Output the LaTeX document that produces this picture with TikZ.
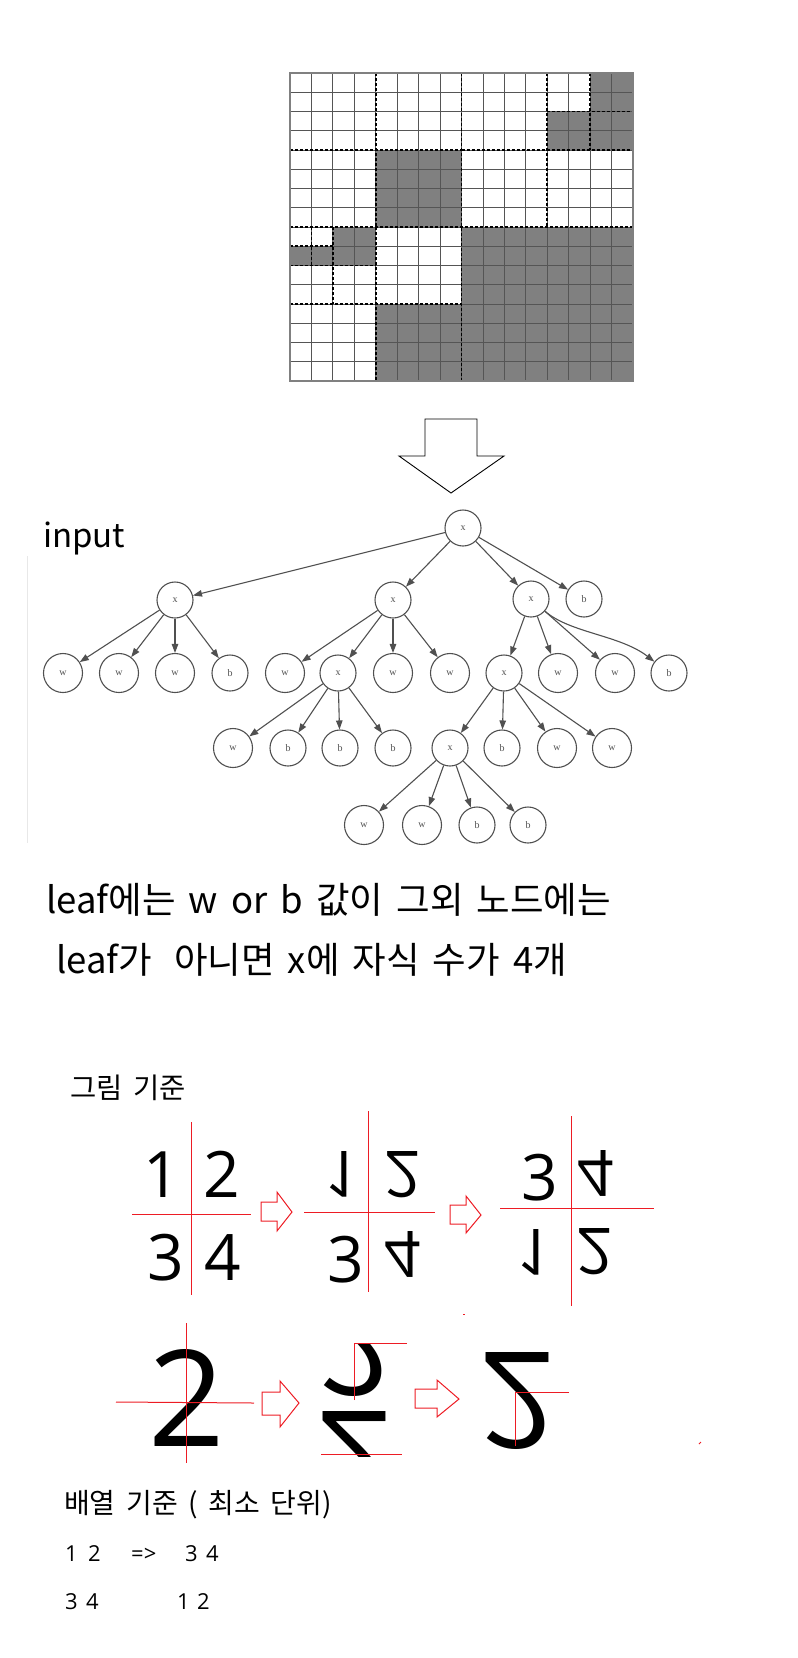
\documentclass[tikz,border=0pt]{standalone}
\usepackage{fontspec}
\usepackage{graphicx}
\setmainfont{Noto Sans CJK KR}[WordSpace=1.6]
\newfontfamily\treefont{Liberation Serif}
\newfontfamily\digitfont{Open Sans}
\newfontfamily\krwide{Noto Sans CJK KR}[WordSpace=1.7]
\usetikzlibrary{shapes,arrows.meta,positioning}

\definecolor{cellgray}{RGB}{128,128,128}
\definecolor{gridline}{RGB}{85,85,85}
\definecolor{treegray}{RGB}{80,80,80}
\definecolor{faint}{RGB}{232,232,232}
\definecolor{paintred}{RGB}{237,28,36}

\newcommand{\upside}[1]{\scalebox{1}[-1]{#1}}

\tikzstyle{tnode} = [circle, draw=treegray, line width=1.1pt, minimum size=36pt,
    inner sep=0pt, text=treegray, font=\treefont\fontsize{10}{10}\selectfont]
\tikzstyle{wnode} = [tnode, minimum size=39pt]
\tikzstyle{line} = [draw=treegray, line width=1.1pt, -{Triangle[length=9pt,width=6.5pt]}]
\tikzstyle{quad} = [draw=black, line width=1.6pt, dash pattern=on 3pt off 2pt]
\tikzstyle{redline} = [draw=paintred, line width=1pt]
\tikzstyle{txt} = [inner sep=0pt, anchor=base west]
\tikzstyle{bigdigit} = [inner sep=0pt, anchor=base, font=\digitfont\fontsize{64}{64}\selectfont]
\tikzstyle{hugedigit} = [inner sep=0pt, anchor=base, font=\digitfont\fontsize{134}{134}\selectfont]

\begin{document}
\begin{tikzpicture}[x=1pt, y=-1pt]
	\useasboundingbox (0,0) rectangle (798,1658);
	% Draw quadtree grid
	\begin{scope}[shift={(290,73)}, x=21.44pt, y=-19.25pt]
		\foreach \a/\b/\c/\d in {14/0/16/2, 12/2/16/4, 4/4/8/8, 8/8/16/16, 4/12/8/16, 2/8/4/10, 0/9/2/10}
			\fill[cellgray] (\a,\b) rectangle (\c,\d);
		\foreach \i in {0,...,16} {
			\draw[gridline, line width=0.8pt] (\i,0) -- (\i,16);
			\draw[gridline, line width=0.8pt] (0,\i) -- (16,\i);
		}
		\foreach \a/\b/\c/\d in {8/0/8/16, 0/8/16/8, 4/0/4/8, 0/4/8/4, 12/0/12/8, 8/4/16/4,
				14/0/14/4, 12/2/16/2, 4/8/4/16, 0/12/8/12, 2/8/2/12, 0/10/4/10, 1/8/1/10, 0/9/2/9}
			\draw[quad] (\a,\b) -- (\c,\d);
		\draw[gray, line width=1.2pt] (0,0) rectangle (16,16);
	\end{scope}
	% Draw down arrow
	\draw[line width=0.9pt] (425,419) -- (477,419) -- (477,456) -- (504,456) -- (451,493)
		-- (399,456) -- (425,456) -- cycle;
	% Draw tree
	\node[txt, font=\fontsize{33}{33}\selectfont] (input) at (43,547) {input};
	\draw[faint, line width=1pt] (27,556) -- (27,843);
	\node[tnode] (root) at (463,528) {x};
	\node[tnode] (tl) at (175,600) {x};
	\node[tnode] (tr) at (393,600) {x};
	\node[tnode] (bl) at (531,599) {x};
	\node[tnode] (br) at (584,599) {b};
	\node[wnode] (tl1) at (63,673) {w};
	\node[wnode] (tl2) at (119,673) {w};
	\node[wnode] (tl3) at (175,673) {w};
	\node[tnode] (tl4) at (230,673) {b};
	\node[wnode] (tr1) at (285,673) {w};
	\node[tnode] (tr2) at (338,673) {x};
	\node[wnode] (tr3) at (393,673) {w};
	\node[wnode] (tr4) at (450,673) {w};
	\node[tnode] (bl1) at (504,673) {x};
	\node[wnode] (bl2) at (558,673) {w};
	\node[wnode] (bl3) at (615,673) {w};
	\node[tnode] (bl4) at (669,673) {b};
	\node[wnode] (tr21) at (233,748) {w};
	\node[tnode] (tr22) at (288,748) {b};
	\node[tnode] (tr23) at (340,748) {b};
	\node[tnode] (tr24) at (393,748) {b};
	\node[tnode] (bl11) at (450,748) {x};
	\node[tnode] (bl12) at (502,748) {b};
	\node[wnode] (bl13) at (557,748) {w};
	\node[wnode] (bl14) at (612,748) {w};
	\node[wnode] (bl111) at (364,825) {w};
	\node[wnode] (bl112) at (422,825) {w};
	\node[tnode] (bl113) at (477,825) {b};
	\node[tnode] (bl114) at (528,825) {b};
	% Draw lines connecting (arrows)
	\foreach \a/\b in {root/tl, root/tr, root/bl, root/br, tl/tl1, tl/tl2, tl/tl3, tl/tl4,
			tr/tr1, tr/tr2, tr/tr3, tr/tr4, bl/bl1, bl/bl2, bl/bl3, tr2/tr21, tr2/tr22,
			tr2/tr23, tr2/tr24, bl1/bl11, bl1/bl12, bl1/bl13, bl1/bl14, bl11/bl111,
			bl11/bl112, bl11/bl113, bl11/bl114}
		\path[line] (\a) -- (\b);
	\path[line] (bl) .. controls (570,633) and (620,635) .. (bl4);
	% Notes
	\node[txt, font=\fontsize{36.5}{36.5}\selectfont] (note1) at (46,913) {leaf에는 w or b 값이 그외 노드에는};
	\node[txt, font=\fontsize{36.5}{36.5}\selectfont] (note2) at (56,973) {leaf가\hspace{0.6em}아니면 x에 자식 수가 4개};
	\node[txt, font=\krwide\fontsize{28.5}{28.5}\selectfont] (pic) at (70,1098) {그림 기준};
	% Draw digit quadrants
	\node[bigdigit] (g1a) at (162,1197) {1};
	\node[bigdigit] (g1b) at (222,1197) {2};
	\node[bigdigit] (g1c) at (166,1280) {3};
	\node[bigdigit] (g1d) at (223,1280) {4};
	\draw[redline] (191,1122) -- (191,1295);
	\draw[redline] (132,1214) -- (251,1214);
	\draw[redline] (261,1202) -- (277,1202) -- (277,1192) -- (292,1212) -- (277,1231) -- (277,1221) -- (261,1221) -- cycle;
	\node[bigdigit] (g2a) at (343,1151) {\upside{1}};
	\node[bigdigit] (g2b) at (403,1151) {\upside{2}};
	\node[bigdigit] (g2c) at (346,1282) {3};
	\node[bigdigit] (g2d) at (403,1231) {\upside{4}};
	\draw[redline] (368,1111) -- (368,1292);
	\draw[redline] (304,1212) -- (435,1212);
	\draw[redline] (450,1205) -- (466,1205) -- (466,1196) -- (481,1215) -- (466,1233) -- (466,1224) -- (450,1224) -- cycle;
	\node[bigdigit] (g3a) at (540,1200) {3};
	\node[bigdigit] (g3b) at (596,1150) {\upside{4}};
	\node[bigdigit] (g3c) at (535,1229) {\upside{1}};
	\node[bigdigit] (g3d) at (595,1228) {\upside{2}};
	\draw[redline] (571,1116) -- (571,1306);
	\draw[redline] (500,1208) -- (654,1208);
	% Draw split digit
	\node[hugedigit] (big) at (187,1446) {2};
	\draw[redline] (186,1323) -- (186,1463);
	\draw[redline] (116,1402) -- (254,1403);
	\draw[redline] (262,1392) -- (280,1392) -- (280,1381) -- (299,1403) -- (280,1427) -- (280,1415) -- (262,1415) -- cycle;
	\begin{scope}
		\clip (320,1343) rectangle (400,1396);
		\node[hugedigit] (halfa) at (355,1299) {\upside{2}};
	\end{scope}
	\begin{scope}
		\clip (320,1410) rectangle (400,1456);
		\node[hugedigit] (halfb) at (355,1411) {\upside{2}};
	\end{scope}
	\draw[redline] (354,1400) -- (354,1343) -- (407,1343);
	\draw[redline] (321,1454) -- (402,1454);
	\draw[redline] (415,1389) -- (437,1389) -- (437,1380) -- (459,1399) -- (437,1417) -- (437,1408) -- (415,1408) -- cycle;
	\node[hugedigit] (flipped) at (518,1352) {\upside{2}};
	\draw[redline] (569,1392) -- (515,1392) -- (515,1446);
	\draw[redline] (463,1314) -- (465,1314);
	\draw[redline] (699,1444) -- (701,1442);
	% Array notes
	\node[txt, font=\krwide\fontsize{28}{28}\selectfont] (arr) at (64,1513) {배열 기준 ( 최소 단위)};
	\foreach \t/\x/\y in {1/65/1561, 2/88/1561, =>/131/1561, 3/185/1561, 4/206/1561,
			3/65/1609, 4/86/1609, 1/177/1609, 2/197/1609}
		\node[txt, font=\digitfont\fontsize{22}{22}\selectfont] (n-\x-\y) at (\x,\y) {\t};
\end{tikzpicture}
\end{document}
